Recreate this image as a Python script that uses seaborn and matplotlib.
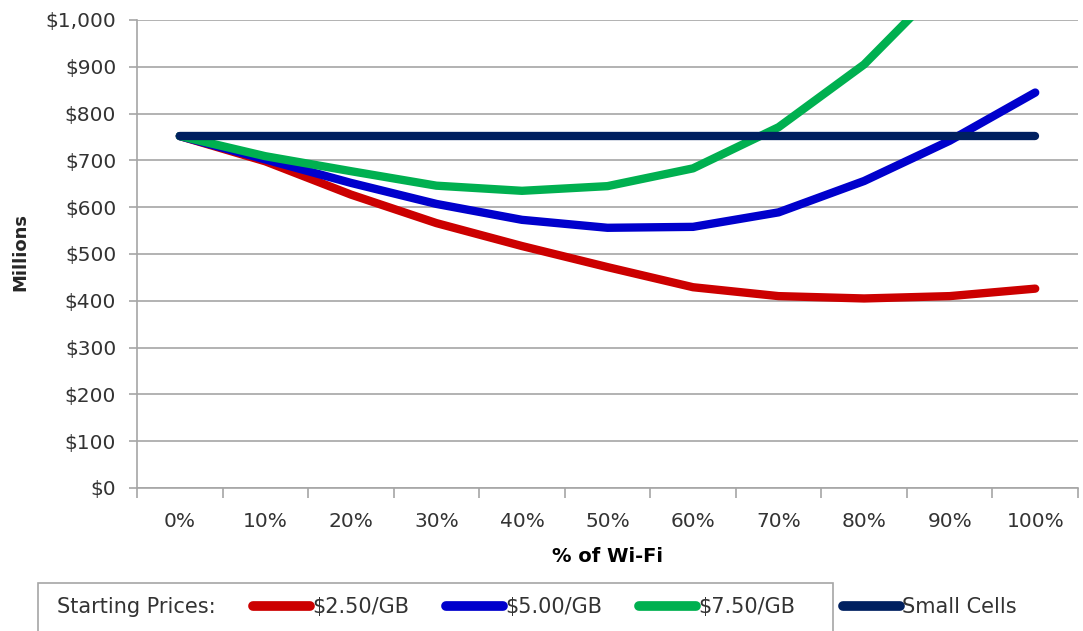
import matplotlib
matplotlib.use("Agg")
import matplotlib.pyplot as plt
from matplotlib.lines import Line2D
from matplotlib.patches import Rectangle
import seaborn as sns
import pandas as pd
import numpy as np

categories = ["0%", "10%", "20%", "30%", "40%", "50%", "60%", "70%", "80%", "90%", "100%"]
price_250 = [752, 698, 627, 566, 517, 472, 429, 410, 405, 410, 426]
price_500 = [752, 702, 652, 607, 573, 556, 558, 589, 656, 742, 845]
price_750 = [752, 709, 677, 646, 635, 645, 683, 771, 905, 1090, 1280]
small_cells = [752] * 11
series_names = ["$2.50/GB", "$5.00/GB", "$7.50/GB", "Small Cells"]
colors = ["#CC0000", "#0000CC", "#00B050", "#002060"]
y_ticks = [0, 100, 200, 300, 400, 500, 600, 700, 800, 900, 1000]

rows = []
for name, vals in zip(series_names, [price_250, price_500, price_750, small_cells]):
    for i, v in enumerate(vals):
        rows.append({"pos": i, "value": v, "series": name})
df = pd.DataFrame(rows)

sns.set_theme(style="white")
plt.rcParams["font.family"] = ["DejaVu Sans"]

fig = plt.figure(figsize=(10.83, 6.31), dpi=100)
ax = fig.add_axes([137 / 1083, 1 - 488 / 631, (1078 - 137) / 1083, (488 - 20) / 631])

sns.lineplot(data=df, x="pos", y="value", hue="series", hue_order=series_names,
             palette=colors, linewidth=6, legend=False, ax=ax,
             solid_capstyle="round", solid_joinstyle="round")

grid_c = "#A6A6A6"
txt_c = "#333333"
ax.set_xlim(-0.5, len(categories) - 0.5)
ax.set_ylim(0, 1000)
ax.set_yticks(y_ticks)
ax.set_yticklabels([f"${v:,}" for v in y_ticks])
ax.set_xticks(range(len(categories)))
ax.set_xticklabels(categories)
ax.set_xticks(np.arange(-0.5, len(categories), 1.0), minor=True)
ax.tick_params(axis="x", which="major", length=0, pad=17, labelsize=14.5, labelcolor=txt_c)
ax.tick_params(axis="x", which="minor", length=7, width=1.2, color=grid_c, direction="out", bottom=True)
ax.tick_params(axis="y", length=6, width=1.2, color=grid_c, direction="out", left=True, pad=9,
               labelsize=14.5, labelcolor=txt_c)
ax.yaxis.grid(True, color=grid_c, linewidth=1.2)
ax.xaxis.grid(False)
for s in ["top", "right"]:
    ax.spines[s].set_visible(False)
for s in ["left", "bottom"]:
    ax.spines[s].set_color(grid_c)
    ax.spines[s].set_linewidth(1.2)
ax.set_axisbelow(True)

ax.set_xlabel("% of Wi-Fi", fontsize=14, fontweight="bold", labelpad=12, color="black")
ax.set_ylabel("")
fig.text(20 / 1083, 1 - 252 / 631, "Millions", rotation=90, fontsize=13, fontweight="bold",
         ha="center", va="center")

# legend box
fig.patches.append(Rectangle((38 / 1083, -0.05), (833 - 38) / 1083, 0.05 + 1 - 583 / 631,
                             transform=fig.transFigure, fill=False, edgecolor=grid_c,
                             linewidth=1.2))
ly = 1 - 607 / 631
fig.text(57 / 1083, ly, "Starting Prices:", fontsize=15, ha="left", va="center", color=txt_c)

handles = [Line2D([], [], color=c, linewidth=7, solid_capstyle="round") for c in colors]
leg1 = fig.legend(handles[:3], series_names[:3], loc="center left",
                  bbox_to_anchor=(253 / 1083, ly), ncol=3, frameon=False,
                  fontsize=15, handlelength=2.75, handletextpad=0.1, columnspacing=1.75,
                  borderpad=0, borderaxespad=0)
for t in leg1.get_texts():
    t.set_color(txt_c)
leg2 = fig.legend(handles[3:], series_names[3:], loc="center left",
                  bbox_to_anchor=(843 / 1083, ly), frameon=False,
                  fontsize=15, handlelength=2.75, handletextpad=0.1,
                  borderpad=0, borderaxespad=0)
for t in leg2.get_texts():
    t.set_color(txt_c)

fig.savefig("out.png", dpi=100)
